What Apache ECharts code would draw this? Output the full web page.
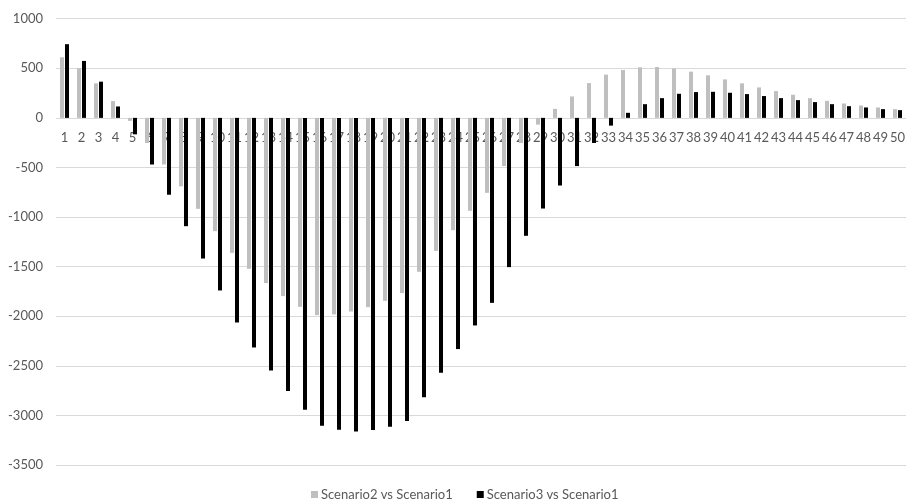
<!DOCTYPE html>
<html>
<head>
<meta charset="utf-8">
<script src="https://cdn.jsdelivr.net/npm/echarts@6/dist/echarts.min.js"></script>
<style>html,body{margin:0;padding:0;background:#fff;}#c{width:910px;height:503px;}</style>
</head>
<body>
<div id="c"></div>
<script>
const categories = Array.from({length: 50}, (_, i) => String(i + 1));
const seriesNames = ['Scenario2 vs Scenario1', 'Scenario3 vs Scenario1'];
const scenario2 = [611, 500, 348, 169, -30, -253, -470, -690, -917, -1142,
  -1361, -1522, -1666, -1797, -1905, -1989, -1982, -1952, -1908, -1845,
  -1767, -1552, -1341, -1132, -937, -756, -486, -253, -68, 91,
  216, 351, 436, 483, 510, 513, 497, 466, 429, 388,
  348, 307, 270, 233, 199, 172, 145, 125, 105, 88];
const scenario3 = [743, 574, 365, 115, -166, -470, -775, -1092, -1418, -1740,
  -2063, -2315, -2547, -2755, -2943, -3105, -3145, -3162, -3148, -3115,
  -3057, -2816, -2570, -2331, -2093, -1865, -1505, -1189, -914, -682,
  -486, -253, -78, 51, 138, 199, 243, 260, 263, 253,
  240, 220, 199, 179, 159, 138, 118, 105, 88, 78];
const yTicks = {min: -3500, max: 1000, interval: 500};

const font = 'Lato, "Open Sans", sans-serif';
const gridTop = 18.7, gridBottom = 38, H = 503;
const plotH = H - gridTop - gridBottom;
// place category axis at the zero line of the value axis
const zeroOffset = -plotH * (0 - yTicks.min) / (yTicks.max - yTicks.min);

const chart = echarts.init(document.getElementById('c'), null, {renderer: 'canvas'});
chart.setOption({
  animation: false,
  backgroundColor: '#ffffff',
  textStyle: {fontFamily: font},
  grid: {left: 56, right: 4, top: gridTop, bottom: gridBottom, containLabel: false},
  legend: {
    bottom: -3, left: 306,
    itemWidth: 7, itemHeight: 7, itemGap: 24,
    icon: 'rect',
    textStyle: {color: '#595959', fontSize: 13, fontFamily: font, padding: [0, 0, 0, -2]},
    data: seriesNames
  },
  xAxis: {
    type: 'category',
    data: categories,
    position: 'bottom',
    offset: zeroOffset,
    axisLine: {show: false, onZero: false},
    axisTick: {show: false},
    axisLabel: {interval: 0, color: '#595959', fontSize: 13, margin: 13, fontFamily: font},
    splitLine: {show: false}
  },
  yAxis: {
    type: 'value',
    min: yTicks.min, max: yTicks.max, interval: yTicks.interval,
    axisLine: {show: false},
    axisTick: {show: false},
    axisLabel: {color: '#595959', fontSize: 13, margin: 13, fontFamily: font,
      formatter: v => String(v)},
    splitLine: {lineStyle: {color: '#D9D9D9', width: 1}}
  },
  series: [
    {name: seriesNames[0], type: 'bar', data: scenario2, barWidth: 4, barGap: '25%',
     itemStyle: {color: '#BFBFBF'}},
    {name: seriesNames[1], type: 'bar', data: scenario3, barWidth: 4, barGap: '25%',
     itemStyle: {color: '#000000'}}
  ]
});
</script>
</body>
</html>
